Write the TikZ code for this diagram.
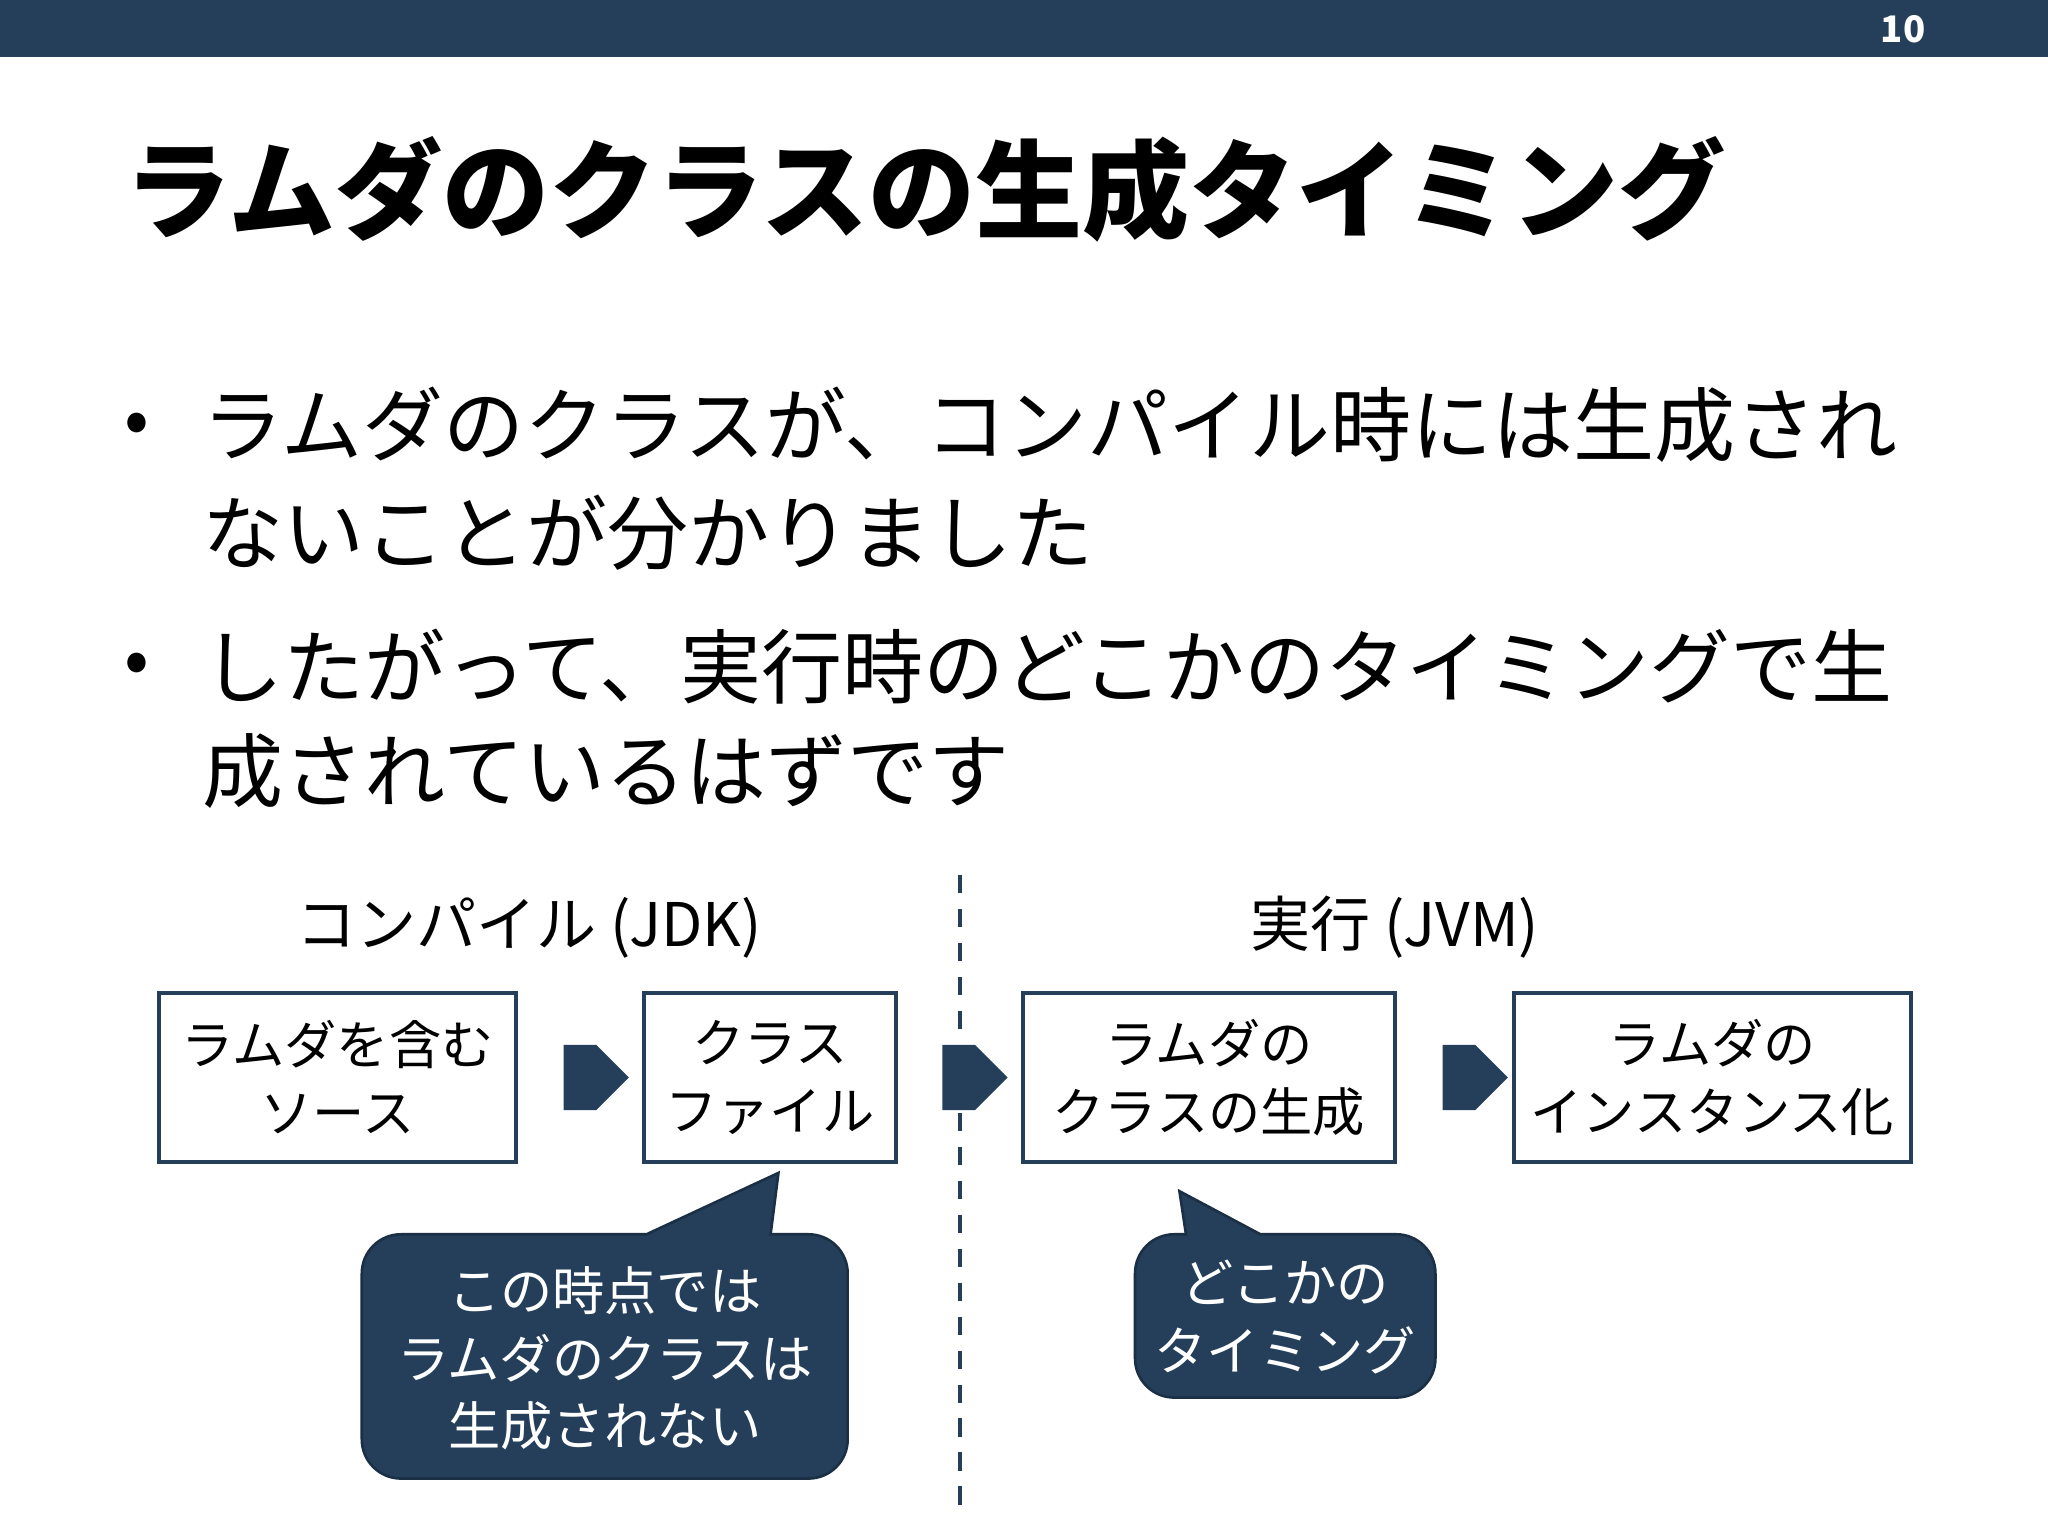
\documentclass[tikz,border=0pt]{standalone}
\usepackage{fontspec}
\setmainfont{Noto Sans CJK JP}
\usetikzlibrary{shapes.arrows}
\definecolor{navy}{HTML}{253F5A}
\definecolor{navyd}{HTML}{1B2F45}
\tikzset{
  x=0.5pt,y=-0.5pt,
  flowbox/.style={draw=navy,line width=1.5pt,fill=white,inner sep=0pt,align=center,font=\fontsize{20}{26}\selectfont},
  blockarrow/.style={single arrow,fill=navy,draw=none,minimum width=25pt,minimum height=25pt,single arrow head extend=0pt,inner sep=0pt,single arrow tip angle=90},
  callout/.style={fill=navy,draw=navyd,line width=1pt},
  callouttext/.style={text=white,align=center,font=\fontsize{20}{26}\selectfont},
  heading/.style={font=\fontsize{23}{28}\selectfont},
  bullettext/.style={anchor=west,font=\fontsize{31}{40}\selectfont},
}
\begin{document}
\begin{tikzpicture}
\useasboundingbox (0,0) rectangle (1568,1176);
\fill[white] (0,0) rectangle (1568,1176);
\fill[navy] (0,0) rectangle (1568,44);
\node[text=white,font=\bfseries\fontsize{14}{16}\selectfont] (pg) at (1457,22) {10};
\node[anchor=west,font=\bfseries\fontsize{41}{48}\selectfont] (title) at (88,145) {ラムダのクラスの生成タイミング};
\node[font=\fontsize{28}{30}\selectfont] (b1) at (105,328) {•};
\node[bullettext] (l1) at (148,325) {ラムダのクラスが、コンパイル時には生成され};
\node[bullettext] (l2) at (148,408) {ないことが分かりました};
\node[font=\fontsize{28}{30}\selectfont] (b2) at (105,512) {•};
\node[bullettext] (l3) at (148,510) {したがって、実行時のどこかのタイミングで生};
\node[bullettext] (l4) at (148,590) {成されているはずです};
\coordinate (dtop) at (735,670);
\coordinate (dbot) at (735,1155);
\draw[navy,line width=1.5pt,dash pattern=on 7pt off 6pt] (dtop) -- (dbot);
\node[heading] (h1) at (405,710) {コンパイル (JDK)};
\node[heading] (h2) at (1068,710) {実行 (JVM)};
\node[flowbox,minimum width=136.5pt,minimum height=65pt] (s1) at (258.5,825) {ラムダを含む\\ソース};
\node[flowbox,minimum width=96.5pt,minimum height=65pt] (s2) at (589.5,825) {クラス\\ファイル};
\node[flowbox,minimum width=142.5pt,minimum height=65pt] (s3) at (925.5,825) {ラムダの\\クラスの生成};
\node[flowbox,minimum width=152pt,minimum height=65pt] (s4) at (1311,825) {ラムダの\\インスタンス化};
\node[blockarrow] (a1) at (444,825) {};
\node[blockarrow] (a2) at (734,825) {};
\node[blockarrow] (a3) at (1117,825) {};
\draw[callout] (495,945) [rounded corners=15pt] -- (277,945) -- (277,1132) -- (649,1132) -- (649,945) [sharp corners] -- (590,945) -- (596,898) -- cycle;
\node[callouttext] (c1) at (463,1040) {この時点では\\ラムダのクラスは\\生成されない};
\draw[callout] (965,945) [rounded corners=15pt] -- (1099,945) -- (1099,1070) -- (869,1070) -- (869,945) [sharp corners] -- (908,945) -- (903,912) -- cycle;
\node[callouttext] (c2) at (984,1008) {どこかの\\タイミング};
\end{tikzpicture}
\end{document}
